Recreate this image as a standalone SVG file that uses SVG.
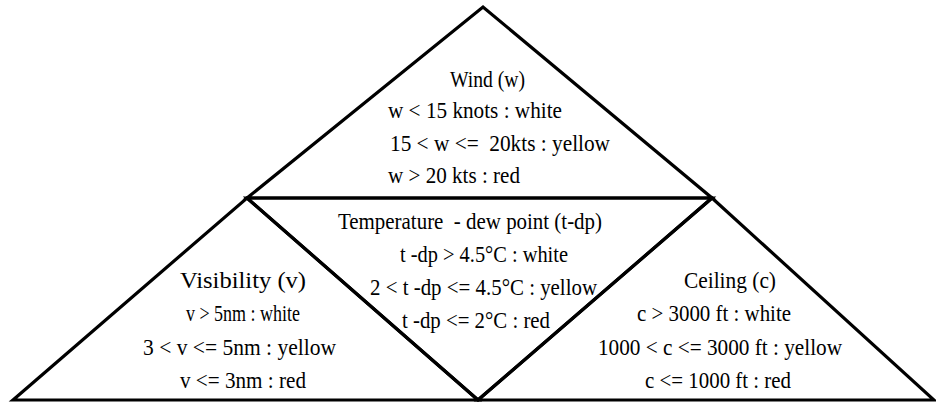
<svg xmlns="http://www.w3.org/2000/svg" width="936" height="402" viewBox="0 0 936 402">
<style>
.tri{fill:none;stroke:#000;stroke-width:3.2;stroke-linejoin:miter}
.t{font-family:"Liberation Serif","Times New Roman",serif;font-size:24px;fill:#000;white-space:pre}
</style>
<rect width="936" height="402" fill="#fff"/>
<g id="connectors"/>
<g id="wind">
<polygon class="tri" points="247,198 483,7 712,198"/>
<text class="t" x="450" y="87" textLength="75" lengthAdjust="spacingAndGlyphs">Wind (w)</text>
<text class="t" x="388" y="118" textLength="174" lengthAdjust="spacingAndGlyphs">w &lt; 15 knots : white</text>
<text class="t" x="390" y="151" textLength="220" lengthAdjust="spacingAndGlyphs">15 &lt; w &lt;=  20kts : yellow</text>
<text class="t" x="388" y="183" textLength="132" lengthAdjust="spacingAndGlyphs">w &gt; 20 kts : red</text>
</g>
<g id="temperature">
<polygon class="tri" points="247,198 712,198 478,400"/>
<text class="t" x="338" y="229" textLength="264" lengthAdjust="spacingAndGlyphs">Temperature  - dew point (t-dp)</text>
<text class="t" x="400" y="262" textLength="168" lengthAdjust="spacingAndGlyphs">t -dp &gt; 4.5°C : white</text>
<text class="t" x="370" y="295" textLength="227" lengthAdjust="spacingAndGlyphs">2 &lt; t -dp &lt;= 4.5°C : yellow</text>
<text class="t" x="402" y="328" textLength="148" lengthAdjust="spacingAndGlyphs">t -dp &lt;= 2°C : red</text>
</g>
<g id="visibility">
<polygon class="tri" points="13,400 247,198 478,400"/>
<text class="t" x="180" y="288" textLength="126" lengthAdjust="spacingAndGlyphs">Visibility (v)</text>
<text class="t" x="186" y="321" textLength="114" lengthAdjust="spacingAndGlyphs">v &gt; 5nm : white</text>
<text class="t" x="143" y="355" textLength="193" lengthAdjust="spacingAndGlyphs">3 &lt; v &lt;= 5nm : yellow</text>
<text class="t" x="180" y="388" textLength="126" lengthAdjust="spacingAndGlyphs">v &lt;= 3nm : red</text>
</g>
<g id="ceiling">
<polygon class="tri" points="712,198 934,400 478,400"/>
<text class="t" x="684" y="288" textLength="92" lengthAdjust="spacingAndGlyphs">Ceiling (c)</text>
<text class="t" x="637" y="321" textLength="154" lengthAdjust="spacingAndGlyphs">c &gt; 3000 ft : white</text>
<text class="t" x="598" y="355" textLength="244" lengthAdjust="spacingAndGlyphs">1000 &lt; c &lt;= 3000 ft : yellow</text>
<text class="t" x="645" y="388" textLength="146" lengthAdjust="spacingAndGlyphs">c &lt;= 1000 ft : red</text>
</g>
</svg>
